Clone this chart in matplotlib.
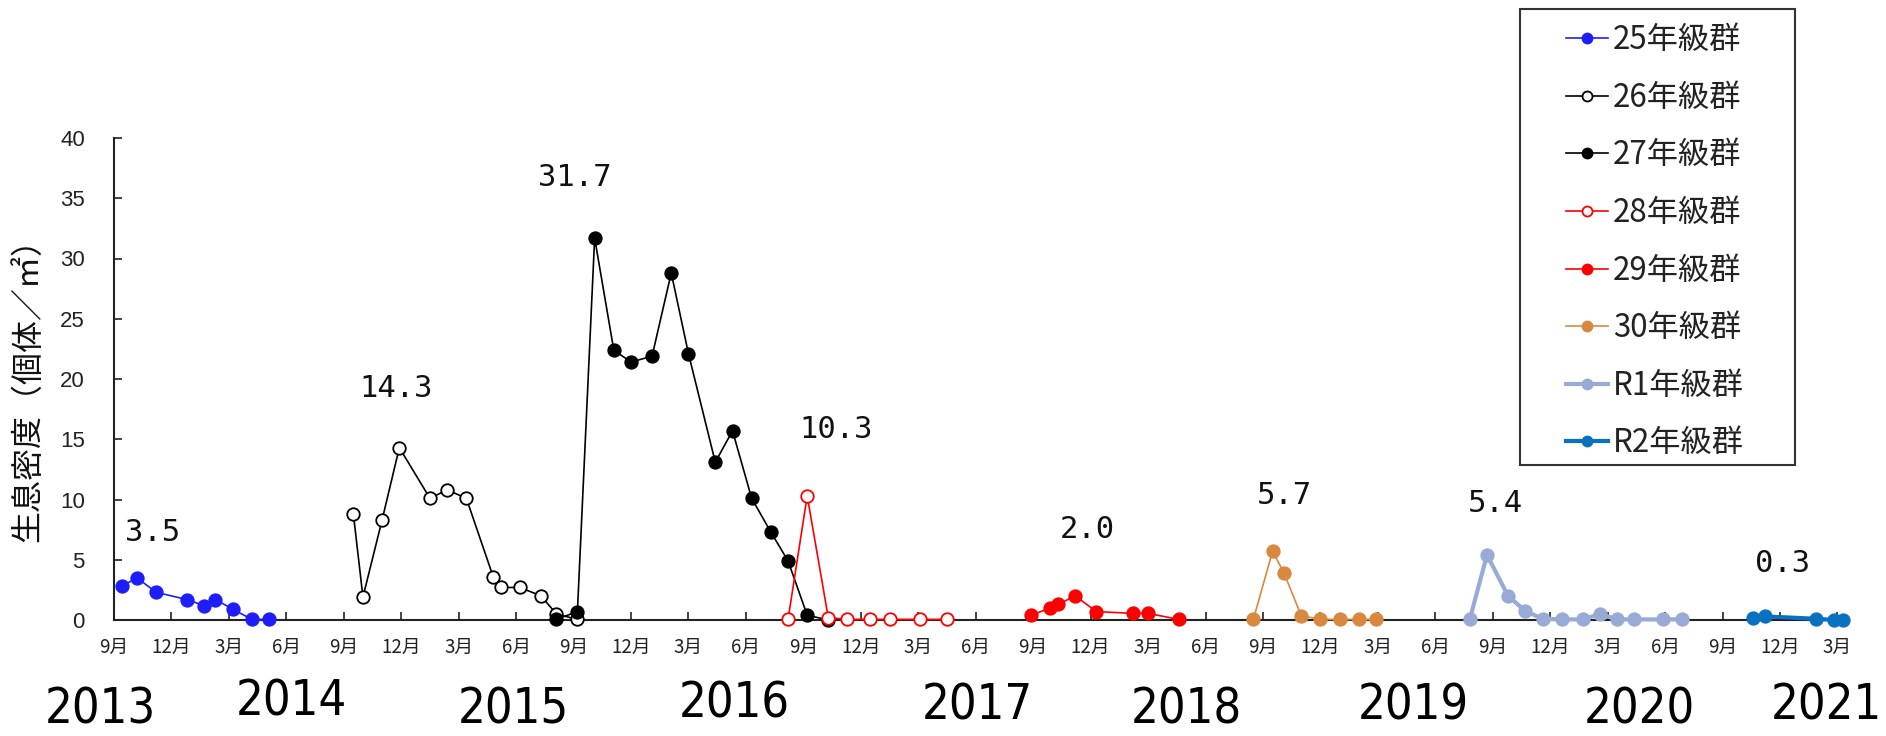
import matplotlib
matplotlib.use('Agg')
import matplotlib.pyplot as plt
from matplotlib import font_manager as fm
from matplotlib.patches import Rectangle


def has_font(name):
    try:
        fm.findfont(fm.FontProperties(family=name), fallback_to_default=False)
        return True
    except Exception:
        return False


def condensed_font():
    cands = []
    for f in fm.fontManager.ttflist:
        fn = f.fname.lower()
        if ('condensed' in fn or 'narrow' in fn or
                str(f.stretch) in ('condensed', 'semi-condensed', 'extra-condensed', '75', '87.5')):
            if 'italic' in fn or 'oblique' in fn or f.style != 'normal':
                continue
            score = 0
            if 'semicondensed' in fn or 'semi' in fn:
                score += 1
            if 'bold' in fn or 'light' in fn or 'thin' in fn or 'black' in fn or 'extra' in fn:
                score += 2
            cands.append((score, f.fname))
    if cands:
        cands.sort()
        return fm.FontProperties(fname=cands[0][1]), True
    return fm.FontProperties(family='DejaVu Sans'), False


CJK = 'Noto Sans CJK JP'
SANS = 'Liberation Sans' if has_font('Liberation Sans') else 'DejaVu Sans'
MONO = 'DejaVu Sans Mono'
YEAR_FP, YEAR_CONDENSED = condensed_font()
plt.rcParams['font.family'] = [CJK, 'DejaVu Sans']

# ---------------- data (x = months since Sep 2013) ----------------
x25 = [0.4, 1.2, 2.2, 3.8, 4.7, 5.3, 6.2, 7.2, 8.1]
y25 = [2.8, 3.5, 2.3, 1.7, 1.2, 1.7, 0.9, 0.05, 0.05]

x26 = [12.5, 13.0, 14.0, 14.9, 16.5, 17.4, 18.4, 19.8, 20.2, 21.2, 22.3, 23.1, 24.2]
y26 = [8.8, 1.9, 8.3, 14.3, 10.1, 10.8, 10.1, 3.6, 2.7, 2.7, 2.0, 0.5, 0.05]

x27 = [23.1, 24.2, 25.1, 26.1, 27.0, 28.1, 29.1, 30.0, 31.4, 32.3, 33.3, 34.3, 35.2, 36.2, 37.3]
y27 = [0.05, 0.7, 31.7, 22.4, 21.4, 21.9, 28.8, 22.1, 13.1, 15.7, 10.1, 7.3, 4.9, 0.4, 0.0]

x28 = [35.2, 36.2, 37.3, 38.3, 39.5, 40.5, 42.1, 43.5]
y28 = [0.05, 10.3, 0.2, 0.05, 0.05, 0.05, 0.05, 0.05]

x29 = [47.9, 48.9, 49.3, 50.2, 51.3, 53.2, 54.0, 55.6]
y29 = [0.4, 1.0, 1.3, 2.0, 0.7, 0.55, 0.55, 0.05]

x30 = [59.5, 60.5, 61.1, 62.0, 63.0, 64.0, 65.0, 65.9]
y30 = [0.05, 5.7, 3.9, 0.35, 0.05, 0.05, 0.05, 0.05]

xR1 = [70.8, 71.7, 72.8, 73.7, 74.6, 75.6, 76.7, 77.6, 78.5, 79.4, 80.9, 81.9]
yR1 = [0.05, 5.4, 2.0, 0.75, 0.1, 0.05, 0.05, 0.5, 0.05, 0.05, 0.05, 0.05]

xR2 = [85.6, 86.2, 88.9, 89.8, 90.3]
yR2 = [0.2, 0.3, 0.1, 0.0, 0.0]

series_labels = ['25年級群', '26年級群', '27年級群', '28年級群',
                 '29年級群', '30年級群', 'R1年級群', 'R2年級群']

month_ticks = list(range(0, 91, 3))
month_labels = ['9月', '12月', '3月', '6月'] * 7 + ['9月', '12月', '3月']
year_labels = ['2013', '2014', '2015', '2016', '2017', '2018', '2019', '2020', '2021']
y_ticks = [0, 5, 10, 15, 20, 25, 30, 35, 40]

# ---------------- styling / layout ----------------
W, H = 1886, 736
styles = [
    dict(color='#1E1EFA', mfc='#1E1EFA', lw=1.2),
    dict(color='#000000', mfc='white', lw=1.2),
    dict(color='#000000', mfc='#000000', lw=1.2),
    dict(color='#FF0000', mfc='white', lw=1.2),
    dict(color='#FF0000', mfc='#FF0000', lw=1.2),
    dict(color='#D8893F', mfc='#D8893F', lw=1.2),
    dict(color='#97ABD6', mfc='#97ABD6', lw=3.0),
    dict(color='#0A70C0', mfc='#0A70C0', lw=3.0),
]
label_offsets_px = [(16, 45), (-3, 59), (-20, 61), (29, 66), (12, 66), (12, 56), (8, 51), (18, 53)]
year_x_px = [100, 291, 513, 734, 977, 1186, 1413, 1639, 1826]
year_base_px = [723, 716, 724, 717, 720, 724, 720, 724, 719]
year_size = 35 if YEAR_CONDENSED else 29

fig = plt.figure(figsize=(W / 100, H / 100), dpi=100)
ax = fig.add_axes([114 / W, 116 / H, 1733 / W, 482 / H])

xs = [x25, x26, x27, x28, x29, x30, xR1, xR2]
ys = [y25, y26, y27, y28, y29, y30, yR1, yR2]
handles = []
for i, (x, y, lab, st) in enumerate(zip(xs, ys, series_labels, styles)):
    h, = ax.plot(x, y, '-o', color=st['color'], lw=st['lw'], ms=9,
                 mfc=st['mfc'], mec=st['color'], mew=1.3, label=lab,
                 clip_on=False, zorder=3 + i * 0.1)
    handles.append(h)
    k = max(range(len(y)), key=lambda j: y[j])
    dx, dy = label_offsets_px[i]
    ax.annotate(f'{y[k]:.1f}', xy=(x[k], y[k]), xytext=(dx, dy),
                textcoords='offset pixels', ha='center', va='center',
                fontsize=22, family=MONO, color='#111')

ax.set_xlim(0, 90.5)
ax.set_ylim(0, 40)
for s in ['top', 'right']:
    ax.spines[s].set_visible(False)
for s in ['left', 'bottom']:
    ax.spines[s].set_linewidth(1.5)
    ax.spines[s].set_color('#222')

ax.set_xticks(month_ticks)
ax.set_xticklabels(month_labels, fontsize=13.5, color='#222')
ax.set_yticks(y_ticks)
ax.set_yticklabels([str(v) for v in y_ticks], fontsize=16, family=SANS, color='#222')
ax.tick_params(axis='x', direction='in', length=6, width=1.2, pad=12, color='#222')
ax.tick_params(axis='y', direction='in', length=6, width=1.2, pad=21, color='#222')

fig.text(28 / W, 1 - 382 / H, '生息密度（個体／㎡）', rotation=90,
         ha='center', va='center', fontsize=23, color='#111')

for yl, xp, bp in zip(year_labels, year_x_px, year_base_px):
    fig.text(xp / W, 1 - bp / H, yl, ha='center', va='baseline',
             fontproperties=YEAR_FP, fontsize=year_size, color='black')

leg = fig.legend(handles, series_labels, loc='upper left',
                 bbox_to_anchor=(1566 / W, 1 - 24 / H), frameon=False,
                 fontsize=22.5, handlelength=1.35, handletextpad=0.15,
                 labelspacing=0.82, borderpad=0, borderaxespad=0,
                 markerscale=0.8)
for t in leg.get_texts():
    t.set_color('#222')
fig.add_artist(Rectangle((1520 / W, 1 - 465 / H), 275 / W, 456 / H,
                         transform=fig.transFigure, fill=False,
                         ec='#333', lw=1.5))

fig.savefig('out.png', dpi=100)
